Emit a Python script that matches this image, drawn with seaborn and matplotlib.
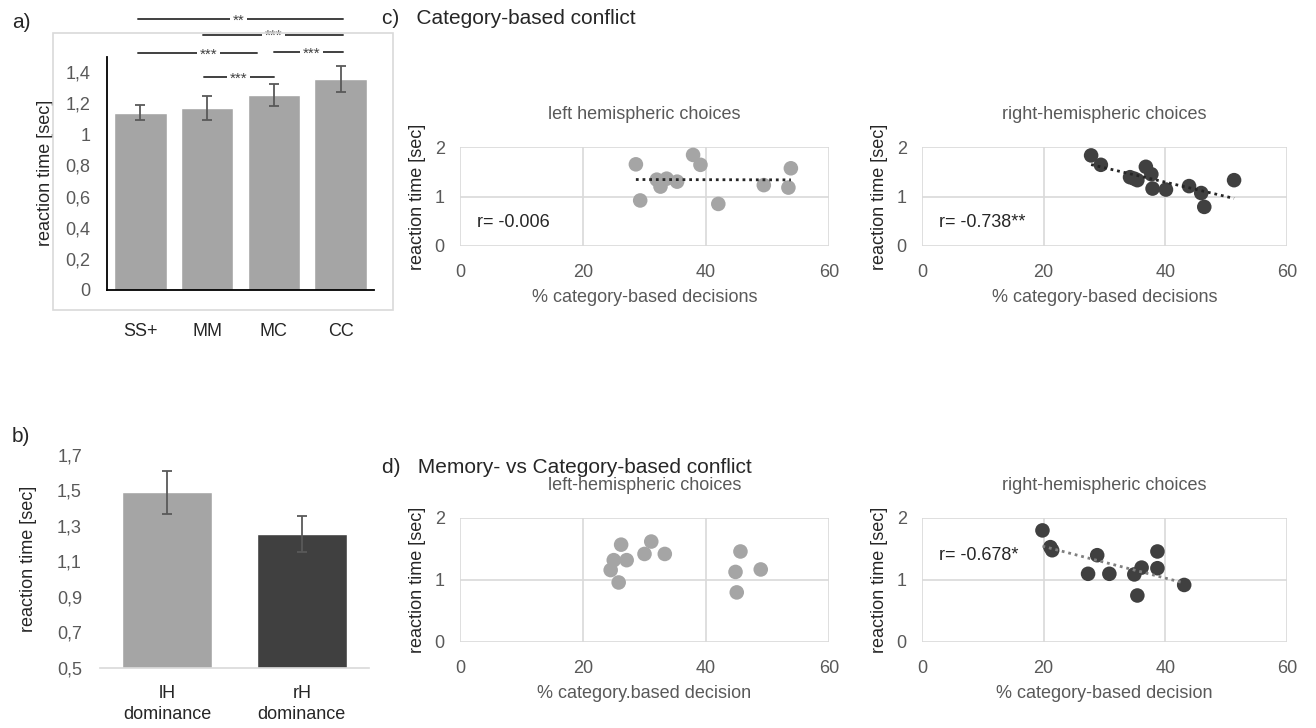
import numpy as np
import pandas as pd
import matplotlib
matplotlib.use("Agg")
import matplotlib.pyplot as plt
import seaborn as sns
from matplotlib.ticker import FuncFormatter
from matplotlib.patches import Rectangle

sns.set_style("white")
plt.rcParams['font.family'] = ['Liberation Sans', 'DejaVu Sans']

# Panel a: reaction time per condition
cond_labels = ['SS+', 'MM', 'MC', 'CC']
cond_rt = [1.14, 1.17, 1.255, 1.355]
cond_err = [0.05, 0.075, 0.07, 0.085]
# (from bar, to bar, height, star position, stars)
sig_pairs = [(-0.03, 3.03, 1.74, 1.47, '**'),
             (0.94, 3.03, 1.64, 2.0, '***'),
             (-0.03, 1.74, 1.52, 1.02, '***'),
             (2.0, 3.03, 1.53, 2.56, '***'),
             (0.96, 2.0, 1.37, 1.47, '***')]

# Panel b: dominance
dom_labels = ['lH\ndominance', 'rH\ndominance']
dom_rt = [1.49, 1.255]
dom_err = [0.12, 0.10]

# Panel c: category-based conflict
c_left_x = [28.6, 29.3, 32.0, 32.6, 33.6, 35.3, 37.9, 39.1, 42.0, 49.4, 53.4, 53.8]
c_left_y = [1.65, 0.92, 1.34, 1.20, 1.36, 1.30, 1.84, 1.64, 0.85, 1.23, 1.18, 1.57]
c_right_x = [27.8, 29.4, 34.2, 34.9, 35.4, 36.8, 37.7, 37.9, 40.1, 43.9, 45.9, 46.4, 51.3]
c_right_y = [1.83, 1.64, 1.39, 1.36, 1.33, 1.60, 1.45, 1.16, 1.14, 1.21, 1.07, 0.79, 1.33]

# Panel d: memory- vs category-based conflict
d_left_x = [26.2, 25.0, 27.1, 24.5, 25.8, 30.0, 31.1, 33.3, 45.6, 44.8, 48.9, 45.0]
d_left_y = [1.57, 1.32, 1.32, 1.16, 0.96, 1.42, 1.62, 1.42, 1.46, 1.13, 1.17, 0.80]
d_right_x = [19.8, 21.1, 21.4, 27.3, 28.8, 30.8, 34.9, 36.1, 35.4, 38.7, 38.7, 43.1]
d_right_y = [1.80, 1.53, 1.48, 1.10, 1.40, 1.10, 1.09, 1.20, 0.75, 1.46, 1.19, 0.92]

LIGHT = '#a5a5a5'
DARK = '#404040'
TXT = '#595959'
GRID = '#d9d9d9'
comma = FuncFormatter(lambda v, p: ('%g' % round(v, 2)).replace('.', ','))

fig = plt.figure(figsize=(13.16, 7.28), dpi=100)
W, H = 1316, 728


def px_axes(x0, y0, x1, y1):
    return fig.add_axes([x0 / W, 1 - y1 / H, (x1 - x0) / W, (y1 - y0) / H])


# ---- panel a ----
fig.patches.append(Rectangle((53 / W, 1 - 310 / H), 340 / W, 277 / H, transform=fig.transFigure,
                             fill=False, edgecolor=GRID, lw=1.2))
ax = px_axes(107, 56.5, 374, 290)
dfa = pd.DataFrame({'cond': cond_labels, 'rt': cond_rt})
sns.barplot(data=dfa, x='cond', y='rt', color=LIGHT, saturation=1, width=0.79, ax=ax)
ax.errorbar(range(len(cond_rt)), cond_rt, yerr=cond_err, fmt='none', ecolor=TXT,
            elinewidth=1.3, capsize=3.5, capthick=1.3)
ax.set_ylim(0, 1.5)
ax.set_xlim(-0.5, 3.5)
ax.set_yticks(np.arange(0, 1.41, 0.2))
ax.yaxis.set_major_formatter(comma)
for s in ['top', 'right']:
    ax.spines[s].set_visible(False)
for s in ['left', 'bottom']:
    ax.spines[s].set_color('black')
    ax.spines[s].set_linewidth(1.3)
ax.tick_params(axis='y', length=0, pad=12, labelsize=13, labelcolor=TXT)
ax.tick_params(axis='x', length=0, pad=24, labelsize=13, labelcolor='#262626')
ax.set_xlabel('')
ax.set_ylabel('reaction time [sec]', fontsize=13, color='#262626')
ax.yaxis.set_label_coords(-0.2, 0.5)
for x0, x1, yy, xt, stars in sig_pairs:
    ax.plot([x0, x1], [yy, yy], color=DARK, lw=1.4, clip_on=False)
    ax.text(xt, yy - 0.01, stars, ha='center', va='center', fontsize=11, color=DARK, clip_on=False,
            bbox=dict(facecolor='white', edgecolor='none', pad=2))
fig.text(12 / W, 1 - 22 / H, 'a)', fontsize=15, va='center', ha='left', color='#262626')

# ---- panel b ----
ax = px_axes(100, 450, 369, 668)
dfb = pd.DataFrame({'dom': dom_labels, 'rt': dom_rt})
sns.barplot(data=dfb, x='dom', y='rt', hue='dom', palette=[LIGHT, DARK], saturation=1,
            width=0.67, legend=False, ax=ax)
for p in ax.patches:
    # bars start at the axis floor like in the original
    p.set_y(0.5)
    p.set_height(p.get_height() - 0.5)
ax.errorbar(range(len(dom_rt)), dom_rt, yerr=dom_err, fmt='none', ecolor=TXT,
            elinewidth=1.3, capsize=3.5, capthick=1.3)
ax.set_ylim(0.5, 1.728)
ax.set_xlim(-0.5, 1.5)
ax.set_yticks(np.arange(0.5, 1.71, 0.2))
ax.yaxis.set_major_formatter(comma)
for s in ['top', 'right', 'left']:
    ax.spines[s].set_visible(False)
ax.spines['bottom'].set_color(GRID)
ax.spines['bottom'].set_linewidth(1.2)
ax.tick_params(axis='y', length=0, pad=13, labelsize=13, labelcolor=TXT)
ax.tick_params(axis='x', length=0, pad=12, labelsize=13, labelcolor='#262626')
for lab in ax.get_xticklabels():
    lab.set_linespacing(1.35)
ax.set_xlabel('')
ax.set_ylabel('reaction time [sec]', fontsize=13, color='#262626')
ax.yaxis.set_label_coords(-0.235, 0.5)
fig.text(12 / W, 1 - 437 / H, 'b)', fontsize=15, va='center', ha='left', color='#262626')


# ---- scatter panels ----
def scatter_panel(box, xs, ys, color, title, xlabel, r_text=None, r_y=0.47, line_color=None):
    ax = px_axes(*box)
    sns.scatterplot(x=xs, y=ys, color=color, s=110, edgecolor='none', ax=ax, zorder=3)
    if line_color is not None:
        sns.regplot(x=np.array(xs), y=np.array(ys), scatter=False, ci=None, truncate=True, ax=ax,
                    line_kws=dict(color=line_color, lw=2, ls=(0, (1, 1.4)), zorder=4))
    ax.set_xlim(0, 60)
    ax.set_ylim(0, 2)
    ax.set_xticks([0, 20, 40, 60])
    ax.set_yticks([0, 1, 2])
    ax.grid(True, color=GRID, lw=1.2)
    ax.set_axisbelow(True)
    for s in ax.spines.values():
        s.set_visible(False)
    ax.tick_params(length=0, labelsize=13, labelcolor=TXT)
    ax.tick_params(axis='y', pad=11)
    ax.tick_params(axis='x', pad=13)
    ax.set_title(title, fontsize=13, color=TXT, pad=20)
    ax.set_xlabel(xlabel, fontsize=13, color=TXT, labelpad=6)
    ax.set_ylabel('reaction time [sec]', fontsize=13, color='#262626', labelpad=6)
    if r_text:
        ax.text(2.8, r_y, r_text, fontsize=13, color='#262626', va='center', ha='left')
    return ax


scatter_panel((460, 147, 829, 246), c_left_x, c_left_y, LIGHT, 'left hemispheric choices',
              '% category-based decisions', 'r= -0.006', 0.47, line_color='#262626')
scatter_panel((922, 147, 1287, 246), c_right_x, c_right_y, DARK, 'right-hemispheric choices',
              '% category-based decisions', 'r= -0.738**', 0.47, line_color='#262626')
scatter_panel((460, 518, 829, 642), d_left_x, d_left_y, LIGHT, 'left-hemispheric choices',
              '% category.based decision')
scatter_panel((922, 518, 1287, 642), d_right_x, d_right_y, DARK, 'right-hemispheric choices',
              '% category-based decision', 'r= -0.678*', 1.39, line_color='#7f7f7f')

fig.text(382 / W, 1 - 18 / H, 'c)   Category-based conflict', fontsize=15, va='center', ha='left',
         color='#262626')
fig.text(382 / W, 1 - 467 / H, 'd)   Memory- vs Category-based conflict', fontsize=15, va='center',
         ha='left', color='#262626')

fig.savefig('out.png', dpi=100, facecolor='white')
